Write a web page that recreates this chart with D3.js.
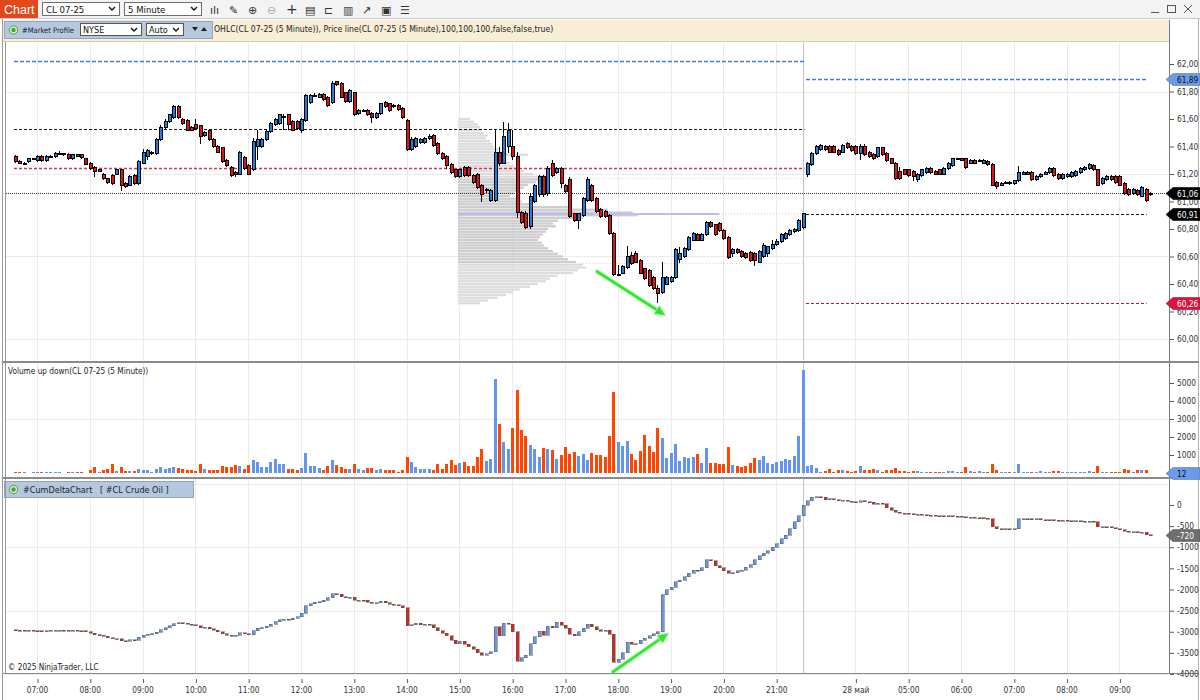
<!DOCTYPE html>
<html><head><meta charset="utf-8"><title>CL 07-25 (5 Minute)</title>
<script src="https://cdn.jsdelivr.net/npm/d3@7/dist/d3.min.js"></script>
<style>
html,body{margin:0;padding:0;background:#fff;}
svg{display:block;}
text{font-family:"Liberation Sans Narrow","DejaVu Sans Condensed","Roboto Condensed","Liberation Sans",sans-serif;}
</style></head><body>
<svg id="chart" width="1200" height="700"></svg>
<script>
// ---------------- DATA ----------------
const sessions=[{start:"06:35",bars:180},{start:"03:05",bars:79}];
const timeTickLabels=["07:00","08:00","09:00","10:00","11:00","12:00","13:00","14:00","15:00","16:00","17:00","18:00","19:00","20:00","21:00","28 май","05:00","06:00","07:00","08:00","09:00"];

const open=[
61.33,61.29,61.28,61.29,61.31,61.30,61.33,61.30,61.33,61.33,61.35,61.35,61.34,61.31,61.34,61.34,61.31,61.28,61.25,61.22,
61.20,61.17,61.19,61.20,61.23,61.13,61.12,61.19,61.13,61.28,61.33,61.35,61.35,61.45,61.54,61.58,61.61,61.69,61.60,61.59,
61.54,61.56,61.55,61.48,61.52,61.45,61.40,61.39,61.30,61.25,61.21,61.20,61.32,61.26,61.23,61.40,61.40,61.45,61.51,61.56,
61.57,61.62,61.63,61.58,61.58,61.52,61.59,61.72,61.77,61.76,61.78,61.76,61.72,61.87,61.86,61.79,61.73,61.79,61.64,61.66,
61.66,61.64,61.61,61.64,61.72,61.71,61.70,61.70,61.68,61.59,61.38,61.40,61.43,61.43,61.46,61.48,61.42,61.35,61.33,61.27,
61.23,61.18,61.25,61.25,61.19,61.20,61.12,61.08,61.01,61.01,61.36,61.28,61.40,61.40,61.33,60.92,60.91,60.82,61.00,61.05,
61.18,61.06,61.28,61.21,61.24,61.12,61.16,60.91,60.86,60.90,61.01,61.12,61.02,60.94,60.93,60.90,60.77,60.47,60.48,60.52,
60.61,60.62,60.57,60.51,60.50,60.45,60.37,60.34,60.40,60.42,60.45,60.58,60.60,60.65,60.72,60.76,60.72,60.76,60.85,60.83,
60.84,60.79,60.74,60.62,60.65,60.64,60.62,60.63,60.62,60.56,60.60,60.62,60.66,60.69,60.71,60.73,60.76,60.78,60.79,60.81,
61.20,61.27,61.35,61.38,61.40,61.40,61.40,61.37,61.36,61.42,61.40,61.40,61.35,61.40,61.36,61.34,61.33,61.39,61.35,61.31,
61.28,61.22,61.23,61.23,61.22,61.16,61.19,61.21,61.24,61.22,61.23,61.20,61.24,61.26,61.31,61.31,61.31,61.28,61.30,61.30,
61.28,61.29,61.27,61.14,61.12,61.14,61.14,61.13,61.15,61.20,61.20,61.21,61.16,61.18,61.20,61.21,61.24,61.20,61.17,61.18,
61.18,61.19,61.21,61.23,61.24,61.26,61.23,61.13,61.16,61.18,61.18,61.18,61.13,61.09,61.06,61.08,61.04,61.09,61.06];
const high=[
61.34,61.30,61.29,61.32,61.32,61.34,61.34,61.34,61.34,61.36,61.37,61.35,61.35,61.34,61.34,61.34,61.32,61.29,61.26,61.24,
61.21,61.17,61.20,61.24,61.24,61.14,61.19,61.20,61.30,61.38,61.38,61.37,61.46,61.56,61.60,61.64,61.70,61.70,61.61,61.60,
61.55,61.60,61.56,61.51,61.53,61.46,61.41,61.40,61.31,61.26,61.22,61.37,61.33,61.27,61.46,61.52,61.46,61.52,61.58,61.61,
61.64,61.64,61.64,61.59,61.59,61.61,61.78,61.78,61.79,61.79,61.79,61.77,61.88,61.88,61.87,61.80,61.82,61.80,61.67,61.67,
61.67,61.65,61.65,61.72,61.73,61.72,61.71,61.71,61.69,61.60,61.47,61.47,61.46,61.47,61.49,61.49,61.43,61.36,61.34,61.28,
61.24,61.24,61.26,61.26,61.20,61.21,61.13,61.10,61.09,61.52,61.40,61.58,61.57,61.52,61.36,60.93,60.93,61.06,61.13,61.19,
61.19,61.26,61.30,61.25,61.25,61.13,61.18,60.92,60.92,61.03,61.18,61.13,61.03,60.95,60.94,60.91,60.78,60.54,60.54,60.68,
60.63,60.64,60.58,60.52,60.51,60.46,60.39,60.56,60.46,60.46,60.66,60.67,60.67,60.75,60.78,60.77,60.77,60.86,60.86,60.84,
60.85,60.80,60.75,60.66,60.66,60.65,60.63,60.64,60.63,60.65,60.70,60.68,60.72,60.73,60.77,60.78,60.80,60.81,60.87,60.92,
61.29,61.36,61.41,61.42,61.41,61.41,61.41,61.38,61.42,61.43,61.41,61.41,61.42,61.42,61.37,61.35,61.40,61.40,61.36,61.32,
61.29,61.25,61.24,61.24,61.23,61.21,61.24,61.25,61.25,61.23,61.24,61.25,61.29,61.32,61.32,61.32,61.32,61.31,61.31,61.31,
61.31,61.30,61.28,61.15,61.14,61.15,61.15,61.16,61.26,61.22,61.22,61.22,61.19,61.21,61.22,61.25,61.25,61.21,61.21,61.21,
61.22,61.23,61.25,61.26,61.28,61.27,61.24,61.18,61.19,61.19,61.19,61.19,61.14,61.10,61.10,61.09,61.11,61.10,61.07];
const low=[
61.28,61.27,61.27,61.28,61.30,61.29,61.29,61.29,61.32,61.32,61.34,61.33,61.30,61.30,61.33,61.31,61.27,61.23,61.18,61.22,
61.16,61.13,61.12,61.19,61.08,61.10,61.11,61.12,61.12,61.27,61.30,61.34,61.34,61.44,61.53,61.57,61.60,61.60,61.56,61.51,
61.51,61.52,61.42,61.47,61.44,61.39,61.35,61.28,61.25,61.18,61.18,61.19,61.23,61.19,61.22,61.30,61.39,61.44,61.50,61.55,
61.56,61.52,61.52,61.51,61.52,61.50,61.58,61.71,61.76,61.75,61.73,61.69,61.71,61.84,61.75,61.72,61.72,61.62,61.63,61.65,
61.62,61.57,61.60,61.63,61.68,61.65,61.68,61.66,61.60,61.37,61.37,61.39,61.42,61.42,61.45,61.40,61.34,61.30,61.24,61.20,
61.17,61.17,61.18,61.18,61.13,61.09,61.00,61.06,61.00,61.00,61.26,61.27,61.35,61.30,60.88,60.84,60.80,60.80,60.99,61.03,
61.03,61.04,61.18,61.20,61.10,61.06,60.88,60.85,60.80,60.89,61.00,61.00,60.92,60.88,60.88,60.76,60.46,60.46,60.47,60.51,
60.54,60.55,60.47,60.43,60.38,60.36,60.26,60.33,60.39,60.41,60.44,60.55,60.59,60.64,60.71,60.71,60.71,60.75,60.81,60.75,
60.78,60.72,60.58,60.60,60.62,60.59,60.58,60.56,60.53,60.55,60.59,60.60,60.65,60.68,60.70,60.72,60.75,60.77,60.78,60.80,
61.18,61.26,61.34,61.37,61.37,61.35,61.35,61.33,61.35,61.38,61.36,61.34,61.30,61.33,61.32,61.30,61.32,61.33,61.29,61.27,
61.16,61.16,61.19,61.18,61.15,61.14,61.18,61.20,61.20,61.19,61.19,61.19,61.23,61.25,61.30,61.30,61.24,61.27,61.27,61.29,
61.27,61.26,61.11,61.09,61.11,61.13,61.12,61.12,61.14,61.19,61.19,61.15,61.15,61.17,61.19,61.20,61.18,61.16,61.16,61.17,
61.17,61.18,61.20,61.22,61.23,61.22,61.11,61.12,61.15,61.15,61.13,61.11,61.05,61.04,61.05,61.04,61.03,61.00,61.04];
const close=[
61.29,61.28,61.28,61.31,61.31,61.33,61.30,61.33,61.33,61.35,61.35,61.34,61.31,61.34,61.33,61.32,61.27,61.24,61.22,61.23,
61.17,61.14,61.13,61.23,61.12,61.11,61.18,61.13,61.29,61.36,61.37,61.36,61.45,61.54,61.58,61.63,61.69,61.61,61.57,61.52,
61.52,61.53,61.47,61.50,61.45,61.40,61.36,61.29,61.26,61.19,61.20,61.36,61.24,61.20,61.44,61.45,61.45,61.51,61.57,61.60,
61.63,61.62,61.56,61.52,61.53,61.60,61.77,61.77,61.77,61.78,61.74,61.70,61.86,61.85,61.76,61.73,61.81,61.63,61.66,61.66,
61.63,61.61,61.64,61.71,61.69,61.66,61.69,61.67,61.61,61.38,61.45,61.46,61.45,61.46,61.47,61.41,61.35,61.31,61.26,61.21,
61.18,61.23,61.19,61.19,61.14,61.10,61.05,61.09,61.08,61.36,61.28,61.47,61.52,61.33,60.92,60.85,60.81,61.04,61.12,61.18,
61.05,61.24,61.19,61.24,61.13,61.07,60.89,60.86,60.91,61.02,61.16,61.01,60.93,60.89,60.89,60.77,60.47,60.47,60.53,60.60,
60.55,60.56,60.48,60.44,60.39,60.37,60.33,60.45,60.45,60.45,60.65,60.62,60.66,60.74,60.77,60.72,60.76,60.85,60.82,60.76,
60.79,60.73,60.59,60.65,60.63,60.60,60.59,60.57,60.57,60.64,60.68,60.67,60.69,60.71,60.76,60.77,60.79,60.80,60.86,60.91,
61.28,61.35,61.40,61.41,61.38,61.36,61.36,61.34,61.41,61.39,61.37,61.35,61.40,61.34,61.33,61.31,61.39,61.34,61.30,61.28,
61.17,61.17,61.20,61.19,61.18,61.20,61.23,61.24,61.21,61.20,61.20,61.24,61.28,61.31,61.31,61.30,61.25,61.30,61.28,61.30,
61.30,61.27,61.12,61.11,61.13,61.14,61.13,61.15,61.21,61.21,61.21,61.16,61.18,61.20,61.21,61.24,61.19,61.17,61.20,61.20,
61.21,61.22,61.24,61.25,61.27,61.23,61.12,61.17,61.18,61.16,61.14,61.12,61.06,61.05,61.09,61.05,61.10,61.01,61.06];

const volume=[
40,30,60,20,80,30,70,50,30,40,30,20,60,50,30,40,20,
166,315,74,166,222,481,111,333,111,130,111,222,166,166,74,240,333,240,278,333,
278,222,185,148,111,518,240,166,166,166,389,333,315,426,407,222,444,740,630,333,
352,592,796,481,518,204,204,185,278,1111,370,370,259,185,389,722,426,352,240,222,
481,240,185,259,278,148,240,148,166,166,74,166,889,592,315,222,240,222,166,481,
240,481,704,444,537,611,370,389,870,1352,667,778,5204,2722,1722,1352,2481,4611,2370,2074,
1556,1315,889,1370,1315,1259,778,981,1463,1037,1148,963,1037,722,1111,1000,
1000,907,2055,4519,1740,1500,1760,1055,722,1240,2111,1500,1185,2481,1926,815,1130,1593,685,889,
852,907,1037,537,1370,574,574,500,500,1463,426,389,315,370,574,852,722,963,574,518,
611,685,796,722,944,2074,5722,389,444,296,
55,111,204,74,166,166,130,74,111,389,148,148,240,166,55,166,148,278,111,111,
74,130,111,60,50,70,40,60,80,111,111,50,60,315,111,50,100,40,60,481,
166,60,50,40,60,518,50,40,60,50,100,50,40,111,90,60,50,40,60,50,
70,111,60,389,50,60,40,60,50,240,148,74,166,148,166,12];

const deltaOpenFirst=-2955;
const deltaClose=[
-2960,-2965,-2970,-2965,-2975,-2980,-2985,-2975,-2970,-2965,-2960,-2965,-2975,-2970,-2975,-2980,-3000,-3040,-3070,-3080,
-3110,-3140,-3170,-3160,-3210,-3220,-3190,-3200,-3130,-3080,-3060,-3050,-3010,-2950,-2900,-2860,-2810,-2790,-2800,-2820,
-2830,-2860,-2900,-2890,-2930,-2960,-3000,-3050,-3080,-3090,-3080,-3020,-3050,-3070,-2980,-2920,-2900,-2870,-2820,-2760,
-2720,-2700,-2720,-2680,-2640,-2560,-2380,-2340,-2300,-2290,-2250,-2200,-2100,-2110,-2170,-2200,-2180,-2260,-2250,-2260,
-2300,-2330,-2310,-2280,-2310,-2350,-2360,-2380,-2430,-2860,-2840,-2800,-2830,-2820,-2830,-2900,-2980,-3040,-3100,-3200,
-3280,-3230,-3300,-3350,-3420,-3500,-3560,-3520,-3470,-2880,-3100,-2800,-2820,-3000,-3700,-3620,-3560,-3280,-3120,-2990,
-3080,-2870,-2900,-2780,-2850,-2920,-3060,-3100,-3000,-2920,-2820,-2880,-2950,-2990,-2960,-3060,-3720,-3650,-3500,-3250,
-3300,-3280,-3200,-3150,-3100,-3050,-3000,-2130,-2010,-1950,-1820,-1780,-1700,-1620,-1540,-1560,-1480,-1300,-1320,-1440,
-1480,-1560,-1610,-1600,-1560,-1540,-1470,-1420,-1300,-1200,-1140,-1080,-1000,-920,-800,-720,-560,-400,-250,0,
100,180,200,180,130,150,120,100,110,90,80,70,100,80,60,20,40,30,-60,-120,
-170,-190,-200,-210,-220,-215,-230,-240,-245,-250,-255,-260,-260,-265,-270,-280,-300,-290,-300,-305,
-310,-320,-520,-560,-570,-565,-570,-560,-330,-320,-330,-340,-330,-345,-350,-355,-360,-370,-365,-370,
-375,-370,-380,-385,-380,-400,-520,-510,-520,-540,-560,-580,-620,-640,-630,-660,-650,-700,-720];

// market profile (prices from profileTop down by profileStep)
const profileTop=61.60, profileStep=0.02, profileStartBar=101;
const profileVolume=[
480,640,800,880,960,1040,1200,1120,1280,1360,1440,1600,1520,2800,1760,1920,2080,2240,2400,2640,
3000,3600,3200,3120,2800,2640,2400,2240,2080,2320,2560,2880,4400,6000,7000,7200,5000,4000,3800,3920,
3600,3520,3400,3280,3200,3360,3440,3600,3800,4000,4200,4400,4720,5000,5120,4800,4600,4000,3680,3520,
3200,2880,2480,2200,1920,1600,1200,880];
const valueAreaHigh=61.17, valueAreaLow=60.55, profilePOC=60.91, pocEndBar=160;

// key levels: [price, session]
const levelPrice=[62.02,61.53,61.24,61.89,60.91,60.26];
const levelSession=[0,0,0,1,1,1];

const priceTicks=[60.0,60.2,60.4,60.6,60.8,61.0,61.2,61.4,61.6,61.8,62.0];
const priceGrid=[60.0,60.6,61.2,61.8];
const volumeTicks=[1000,2000,3000,4000,5000];
const volumeGrid=[3000];
const deltaTicks=[0,-500,-1000,-1500,-2000,-2500,-3000,-3500,-4000];
const deltaGrid=[500,-1000,-2500,-4000];

// hand-drawn arrows (bar index, value)
const arrowPriceBars=[132.3,147.9], arrowPriceVals=[60.49,60.17];
const arrowDeltaBars=[135.9,148.6], arrowDeltaVals=[-3950,-3030];

// ---------------- CHECKS ----------------
const N=sessions.reduce((a,s)=>a+s.bars,0);
[open,high,low,close,volume,deltaClose].forEach((a,k)=>{ if(a.length!==N) throw new Error("array "+k+" length "+a.length+" != "+N); });

// ---------------- LAYOUT ----------------
const svg=d3.select("#chart");
const L=6, R=1169;
const pP={top:42,bottom:360}, pV={top:363,bottom:476}, pD={top:479,bottom:673};
const UP="#1f7fe0", DN="#e01414", VUP="#6495ED", VDN="#FF4500", DUP="#6a96e6", DDN="#cc2a22";

const barTimes=[];
sessions.forEach(s=>{const [h,m]=s.start.split(":").map(Number);for(let k=0;k<s.bars;k++){const t=h*60+m+5*k;barTimes.push({hh:Math.floor(t/60)%24,mm:t%60});}});
const idx=d3.range(N);
const tickIdx=idx.filter(i=>barTimes[i].mm===0);
const sessionBreak=sessions[0].bars-1+0.15;

const x=d3.scaleLinear().domain([0,N-1]).range([15,15+(N-1)*4.4]);
const yP=d3.scaleLinear().domain([60,62]).range([339,64]);
const yV=d3.scaleLinear().domain([0,5000]).range([473,383]);
const yD=d3.scaleLinear().domain([-4000,0]).range([674,505]);
const cx=i=>Math.round(x(i));

const defs=svg.append("defs");
[["clipP",pP],["clipV",pV],["clipD",pD]].forEach(([id,p])=>defs.append("clipPath").attr("id",id).append("rect").attr("x",L).attr("y",p.top).attr("width",R-L).attr("height",p.bottom-p.top));

// background
svg.append("rect").attr("width",1200).attr("height",700).attr("fill","#fff");

// ---------------- TOOLBAR ----------------
svg.append("rect").attr("x",0).attr("y",0).attr("width",1200).attr("height",19).attr("fill","#f3f3f3");
svg.append("line").attr("x1",0).attr("x2",1200).attr("y1",18.5).attr("y2",18.5).attr("stroke","#c8c8c8");
svg.append("rect").attr("x",0).attr("y",0).attr("width",38).attr("height",18).attr("fill","#e2481c");
svg.append("text").attr("x",4).attr("y",13.5).text("Chart").attr("fill","#fff").attr("font-size",12.5).style("font-family","Liberation Sans, sans-serif");
[[42,77,"CL 07-25"],[124,77,"5 Minute"]].forEach(([xx,w,t])=>{
  svg.append("rect").attr("x",xx+0.5).attr("y",2.5).attr("width",w).attr("height",13).attr("fill","#fff").attr("stroke","#6f6f6f");
  svg.append("text").attr("x",xx+4).attr("y",12.5).text(t).attr("font-size",9.5).attr("fill","#111");
  svg.append("path").attr("d",`M${xx+w-10},7 l3,3 l3,-3`).attr("fill","none").attr("stroke","#111").attr("stroke-width",1.4);
});
const icons=["ılı","✎","⊕","⊖","+","▤","⊏","▥","↗","▣","☰"];
icons.forEach((t,k)=>svg.append("text").attr("x",210+k*19).attr("y",13.5).text(t).attr("font-size",k===4?14:11).attr("fill",k===3?"#aaa":"#333").style("font-family","DejaVu Sans, sans-serif"));
[1155,1172,1188].forEach((xx,k)=>{
  if(k===0) svg.append("line").attr("x1",xx-4).attr("x2",xx+4).attr("y1",12.5).attr("y2",12.5).attr("stroke","#555");
  if(k===1) svg.append("rect").attr("x",xx-4.5).attr("y",5.5).attr("width",8).attr("height",7).attr("fill","none").attr("stroke","#555");
  if(k===2) svg.append("path").attr("d",`M${xx-4},5 l8,8 M${xx+4},5 l-8,8`).attr("stroke","#555");
});

// indicator strip
svg.append("rect").attr("x",3).attr("y",20).attr("width",R-3).attr("height",22).attr("fill","#f8eed5");
svg.append("line").attr("x1",3).attr("x2",R).attr("y1",41.5).attr("y2",41.5).attr("stroke","#d8cba8");
function labelBox(x0,y0,w,h){
  svg.append("rect").attr("x",x0+0.5).attr("y",y0+0.5).attr("width",w).attr("height",h).attr("fill","#b5c8e0").attr("stroke","#8fa4c4");
  svg.append("circle").attr("cx",x0+9.5).attr("cy",y0+h/2+0.5).attr("r",4.2).attr("fill","#d8ecd0").attr("stroke","#5a9a4a");
  svg.append("circle").attr("cx",x0+9.5).attr("cy",y0+h/2+0.5).attr("r",2.2).attr("fill","#3faa2a");
}
labelBox(4,21,208,17);
svg.append("text").attr("x",22).attr("y",32.5).text("#Market Profile").attr("font-size",7.6).attr("fill","#222")
  .attr("textLength",52).attr("lengthAdjust","spacingAndGlyphs");
[[80,61,"NYSE"],[146,37,"Auto"]].forEach(([xx,w,t])=>{
  svg.append("rect").attr("x",xx+0.5).attr("y",23.5).attr("width",w).attr("height",12).attr("fill","#fff").attr("stroke","#555");
  svg.append("text").attr("x",xx+3).attr("y",33).text(t).attr("font-size",9).attr("fill","#111");
  svg.append("path").attr("d",`M${xx+w-10},28 l3,3 l3,-3`).attr("fill","none").attr("stroke","#111").attr("stroke-width",1.4);
});
svg.append("path").attr("d","M192,27 l6,0 l-3,4 Z M201,31 l6,0 l-3,-4 Z").attr("fill","#222");
svg.append("text").attr("x",214).attr("y",32).text("OHLC(CL 07-25 (5 Minute)), Price line(CL 07-25 (5 Minute),100,100,100,false,false,true)").attr("font-size",8.6).attr("fill","#222");

// ---------------- GRID ----------------
const grid=svg.append("g").attr("stroke","#ebebeb").attr("stroke-width",1);
[pP,pV,pD].forEach(p=>tickIdx.forEach(i=>grid.append("line").attr("x1",cx(i)+0.5).attr("x2",cx(i)+0.5).attr("y1",p.top).attr("y2",p.bottom)));
priceGrid.forEach(v=>grid.append("line").attr("x1",L).attr("x2",R).attr("y1",Math.round(yP(v))+0.5).attr("y2",Math.round(yP(v))+0.5));
volumeGrid.forEach(v=>grid.append("line").attr("x1",L).attr("x2",R).attr("y1",Math.round(yV(v))+0.5).attr("y2",Math.round(yV(v))+0.5));
deltaGrid.forEach(v=>grid.append("line").attr("x1",L).attr("x2",R).attr("y1",Math.round(yD(v))+0.5).attr("y2",Math.round(yD(v))+0.5));
// session break
[pP,pV,pD].forEach(p=>svg.append("line").attr("x1",Math.round(x(sessionBreak))+0.5).attr("x2",Math.round(x(sessionBreak))+0.5).attr("y1",p.top).attr("y2",p.bottom).attr("stroke","#c4c4c4"));

// ---------------- PRICE PANE ----------------
const gP=svg.append("g").attr("clip-path","url(#clipP)");
// market profile
const profW=d3.scaleLinear().domain([0,7200]).range([0,180]);
const rowH=Math.abs(yP(0)-yP(profileStep));
const prof=profileVolume.map((v,k)=>({p:+(profileTop-k*profileStep).toFixed(2),v}));
gP.append("g").selectAll("rect").data(prof).join("rect")
  .attr("x",x(profileStartBar)-1.5).attr("y",d=>yP(d.p)-rowH/2+0.25).attr("height",rowH-0.5)
  .attr("width",d=>profW(d.v))
  .attr("fill",d=>(d.p<=valueAreaHigh&&d.p>=valueAreaLow)?"#cdcdcd":"#dcdcdc");
// value area extension (faint dotted)
function profEnd(p){const k=Math.round((profileTop-p)/profileStep);return x(profileStartBar)-1.5+profW(profileVolume[k]);}
[valueAreaHigh,valueAreaLow].forEach(p=>gP.append("line").attr("x1",profEnd(p)).attr("x2",x(sessionBreak)).attr("y1",Math.round(yP(p))+0.5).attr("y2",Math.round(yP(p))+0.5).attr("stroke","#d6d6d6").attr("stroke-dasharray","1,2"));
// POC
gP.append("line").attr("x1",x(profileStartBar)-1.5).attr("x2",x(pocEndBar)).attr("y1",yP(profilePOC)).attr("y2",yP(profilePOC)).attr("stroke","#b9bff4").attr("stroke-width",2);
gP.append("line").attr("x1",x(pocEndBar)).attr("x2",x(sessionBreak)).attr("y1",yP(profilePOC)).attr("y2",yP(profilePOC)).attr("stroke","#f0b8c0").attr("stroke-dasharray","1,2");

// key levels
const levelStyle=[["#3d7bf0",1.4,"4,2"],["#111",1.2,"3,2"],["#e0304e",1.6,"3,2"],["#3d7bf0",1.4,"4,2"],["#111",1.2,"3,2"],["#b01c2a",1.2,"3,2"]];
const sessRange=[[0,sessionBreak+0.3],[sessions[0].bars,N-1.8]];
levelPrice.forEach((p,k)=>{const [a,b]=sessRange[levelSession[k]];const st=levelStyle[k];
  gP.append("line").attr("x1",x(a)-1).attr("x2",x(b)).attr("y1",Math.round(yP(p))+0.5).attr("y2",Math.round(yP(p))+0.5)
   .attr("stroke",st[0]).attr("stroke-width",st[1]).attr("stroke-dasharray",st[2]);});
// price line (last close)
const lastClose=close[N-1];
gP.append("line").attr("x1",L).attr("x2",R).attr("y1",Math.round(yP(lastClose))+0.5).attr("y2",Math.round(yP(lastClose))+0.5).attr("stroke","#333").attr("stroke-dasharray","1,1");

// candles
const gCand=gP.append("g").attr("shape-rendering","crispEdges");
gCand.selectAll("line").data(idx).join("line")
  .attr("x1",i=>cx(i)+0.5).attr("x2",i=>cx(i)+0.5).attr("y1",i=>yP(high[i])).attr("y2",i=>yP(low[i])).attr("stroke","#000");
gCand.selectAll("rect").data(idx).join("rect")
  .attr("x",i=>cx(i)-1).attr("width",3)
  .attr("y",i=>yP(Math.max(open[i],close[i])))
  .attr("height",i=>Math.max(1,Math.abs(yP(open[i])-yP(close[i]))))
  .attr("fill",i=>close[i]>open[i]?UP:(close[i]<open[i]?DN:"#000"))
  .attr("stroke","#000").attr("stroke-width",1);

// arrows
function arrow(g,x0,y0,x1,y1){
  const a=Math.atan2(y1-y0,x1-x0), L2=11, Wd=5;
  const bx=x1-L2*Math.cos(a), by=y1-L2*Math.sin(a);
  g.append("line").attr("x1",x0).attr("y1",y0).attr("x2",bx).attr("y2",by).attr("stroke","#c8f8c8").attr("stroke-width",5).attr("stroke-linecap","round");
  g.append("line").attr("x1",x0).attr("y1",y0).attr("x2",bx).attr("y2",by).attr("stroke","#2ee62e").attr("stroke-width",2.6).attr("stroke-linecap","round");
  g.append("path").attr("d",`M${x1},${y1} L${bx+Wd*Math.sin(a)},${by-Wd*Math.cos(a)} L${bx-Wd*Math.sin(a)},${by+Wd*Math.cos(a)} Z`).attr("fill","#2ee62e").attr("stroke","#b8f0b8").attr("stroke-width",0.8);
}
arrow(gP,x(arrowPriceBars[0]),yP(arrowPriceVals[0]),x(arrowPriceBars[1]),yP(arrowPriceVals[1]));

// ---------------- VOLUME PANE ----------------
const gV=svg.append("g").attr("clip-path","url(#clipV)").attr("shape-rendering","crispEdges");
gV.selectAll("rect").data(idx).join("rect")
  .attr("x",i=>cx(i)-1).attr("width",3)
  .attr("y",i=>yV(volume[i])).attr("height",i=>Math.max(0.5,yV(0)-yV(volume[i])))
  .attr("fill",i=>close[i]>=open[i]?VUP:VDN);
svg.append("text").attr("x",8).attr("y",374).text("Volume up down(CL 07-25 (5 Minute))").attr("font-size",8.2).attr("fill","#222");

// ---------------- DELTA PANE ----------------
const dOpen=idx.map(i=>i===0?deltaOpenFirst:deltaClose[i-1]);
const gD=svg.append("g").attr("clip-path","url(#clipD)").attr("shape-rendering","crispEdges");
gD.selectAll("rect").data(idx).join("rect")
  .attr("x",i=>cx(i)-1).attr("width",3)
  .attr("y",i=>yD(Math.max(dOpen[i],deltaClose[i])))
  .attr("height",i=>Math.max(1,Math.abs(yD(dOpen[i])-yD(deltaClose[i]))))
  .attr("fill",i=>deltaClose[i]>dOpen[i]?DUP:(deltaClose[i]<dOpen[i]?DDN:"#666"))
  .attr("stroke","#555").attr("stroke-width",0.5);
arrow(svg.append("g"),x(arrowDeltaBars[0]),yD(arrowDeltaVals[0]),x(arrowDeltaBars[1]),yD(arrowDeltaVals[1]));
labelBox(4,481,189,16);
svg.append("text").attr("x",23).attr("y",492.5).text("#CumDeltaChart   [ #CL Crude Oil ]").attr("font-size",9).attr("fill","#222").attr("xml:space","preserve");
svg.append("text").attr("x",8).attr("y",670).text("© 2025 NinjaTrader, LLC").attr("font-size",8.2).attr("fill","#222");

// ---------------- FRAMES ----------------
const fr=svg.append("g").attr("shape-rendering","crispEdges");
fr.append("line").attr("x1",2.5).attr("x2",2.5).attr("y1",19).attr("y2",700).attr("stroke","#9a9a9a");
fr.append("line").attr("x1",5.5).attr("x2",5.5).attr("y1",42).attr("y2",673).attr("stroke","#9a9a9a");
fr.append("line").attr("x1",R+0.5).attr("x2",R+0.5).attr("y1",20).attr("y2",673).attr("stroke","#7a7a7a");
fr.append("line").attr("x1",1198.5).attr("x2",1198.5).attr("y1",19).attr("y2",700).attr("stroke","#b0b0b0");
[pP.bottom+0.5,pV.bottom+0.5].forEach(yy=>{fr.append("rect").attr("x",3).attr("y",yy).attr("width",1196).attr("height",2.2).attr("fill","#8a8a8a");});
fr.append("line").attr("x1",3).attr("x2",1199).attr("y1",pD.bottom+0.5).attr("y2",pD.bottom+0.5).attr("stroke","#8a8a8a");

// ---------------- AXES ----------------
function styleAxis(g){g.select(".domain").remove();g.selectAll(".tick line").attr("stroke","#555");g.selectAll(".tick text").attr("fill","#333").attr("font-size",8.3).style("font-family",null);}
svg.append("g").attr("transform",`translate(${R+1},0)`).call(d3.axisRight(yP).tickValues(priceTicks).tickSize(4).tickPadding(3).tickFormat(d=>d.toFixed(2).replace(".",","))).call(styleAxis);
svg.append("g").attr("transform",`translate(${R+1},0)`).call(d3.axisRight(yV).tickValues(volumeTicks).tickSize(4).tickPadding(3).tickFormat(d3.format("d"))).call(styleAxis);
svg.append("g").attr("transform",`translate(${R+1},0)`).call(d3.axisRight(yD).tickValues(deltaTicks).tickSize(4).tickPadding(3).tickFormat(d=>String(d))).call(styleAxis);
svg.append("g").attr("transform",`translate(0,${pD.bottom+6})`).call(d3.axisBottom(x).tickValues(tickIdx).tickSize(4).tickPadding(4).tickFormat((d,j)=>timeTickLabels[j])).call(styleAxis)
  .selectAll(".tick line").attr("transform","translate(0.5,0)");

// right-axis markers
function marker(yv,txt,bg,fg){
  const yy=Math.round(yv);
  svg.append("path").attr("d",`M${R-3},${yy+0.5} L${R+4},${yy-5.5} L1200,${yy-5.5} L1200,${yy+6.5} L${R+4},${yy+6.5} Z`).attr("fill",bg).attr("stroke",d3.color(bg).darker(0.7)).attr("stroke-width",0.6);
  svg.append("text").attr("x",R+8).attr("y",yy+3.8).text(txt).attr("fill",fg).attr("font-size",8.3);
}
const fmtP=v=>v.toFixed(2).replace(".",",");
marker(yP(levelPrice[3]),fmtP(levelPrice[3]),"#6a9ae8","#111");
marker(yP(lastClose),fmtP(lastClose),"#000","#fff");
marker(yP(levelPrice[4]),fmtP(levelPrice[4]),"#000","#fff");
marker(yP(levelPrice[5]),fmtP(levelPrice[5]),"#dc143c","#fff");
marker(yV(volume[N-1]),String(volume[N-1]),"#6a9ae8","#111");
marker(yD(deltaClose[N-1]),String(deltaClose[N-1]),"#6e6e6e","#fff");
</script>
</body></html>
